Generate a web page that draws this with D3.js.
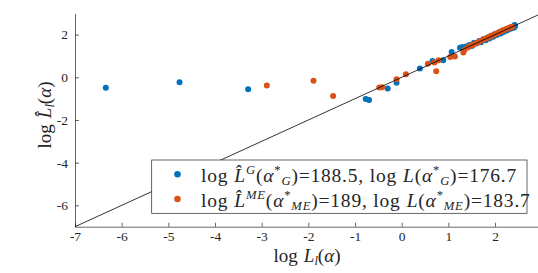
<!DOCTYPE html>
<html lang="en">
<head>
<meta charset="UTF-8">
<script src="https://d3js.org/d3.v7.min.js"></script>
<style>
  body { margin: 0; background: #fff; }
  svg { display: block; }
</style>
</head>
<body>
<svg id="chart" width="538" height="273"></svg>
<script>
// data: [log L_l(alpha), log Lhat_l(alpha)]
var bluePts = [
  [-6.34,-0.49],[-4.76,-0.23],[-3.29,-0.56],[-0.77,-1.02],[-0.70,-1.06],
  [-0.30,-0.52],[-0.11,-0.25],[0.39,0.41],[0.66,0.76],[0.89,0.80],
  [1.07,1.19],[1.25,1.39],[1.30,1.42],[1.38,1.45],[1.45,1.52],[1.50,1.47],
  [1.55,1.62],[1.60,1.58],[1.66,1.70],[1.70,1.64],[1.75,1.78],[1.80,1.74],
  [1.84,1.86],[1.88,1.82],[1.92,1.95],[1.96,1.90],[2.00,2.03],[2.04,1.98],
  [2.08,2.10],[2.12,2.05],[2.15,2.16],[2.18,2.12],[2.21,2.22],[2.24,2.18],
  [2.27,2.27],[2.30,2.24],[2.33,2.33],[2.36,2.30],[2.39,2.38],[2.41,2.34],
  [2.43,2.40],[2.42,2.45]
];
var orangePts = [
  [-2.89,-0.38],[-1.89,-0.16],[-1.47,-0.88],[-0.48,-0.48],[-0.42,-0.47],
  [-0.11,-0.09],[0.09,0.14],[0.56,0.64],[0.74,0.29],[0.79,0.80],[0.70,0.70],
  [1.04,0.95],[1.14,0.98],[1.32,1.16],[1.35,1.30],[1.42,1.40],[1.48,1.50],
  [1.53,1.52],[1.58,1.60],[1.63,1.62],[1.68,1.70],[1.72,1.73],[1.77,1.79],
  [1.82,1.83],[1.86,1.88],[1.90,1.92],[1.94,1.96],[1.98,2.00],[2.02,2.04],
  [2.06,2.08],[2.10,2.12],[2.13,2.15],[2.16,2.19],[2.19,2.21],[2.22,2.24],
  [2.25,2.27],[2.28,2.30],[2.31,2.32],[2.34,2.35],[2.37,2.37]
];
var xTicks = [-7,-6,-5,-4,-3,-2,-1,0,1,2];
var yTicks = [-6,-4,-2,0,2];
var diagLine = [[-7,-7],[3,3]];

var FONT = "'Liberation Serif', 'Times New Roman', serif";
var INK = "#262626";

var svg = d3.select("#chart");
var x = d3.scaleLinear().domain([-7, 3]).range([75, 541.7]);
var y = d3.scaleLinear().domain([-7, 3]).range([226.7, 13.3]);

// axes, MATLAB style: ticks pointing inward
svg.append("g")
  .attr("transform", "translate(0," + y(-7) + ")")
  .call(d3.axisBottom(x).tickValues(xTicks).tickSizeInner(-4).tickSizeOuter(0).tickPadding(3).tickFormat(function(d) { return String(d); }))
  .call(function(g) {
    g.attr("font-family", null);
    g.select(".domain").attr("stroke", INK).attr("stroke-width", 0.7);
    g.selectAll(".tick line").attr("stroke", INK).attr("stroke-width", 0.7);
    g.selectAll(".tick text").style("font-family", FONT).style("font-size", "13.5px").attr("fill", INK).attr("dy", "0.82em");
  });

svg.append("g")
  .attr("transform", "translate(" + x(-7) + ",0)")
  .call(d3.axisLeft(y).tickValues(yTicks).tickSizeInner(-4).tickSizeOuter(0).tickPadding(7).tickFormat(function(d) { return String(d); }))
  .call(function(g) {
    g.attr("font-family", null);
    g.select(".domain").attr("stroke", INK).attr("stroke-width", 0.7);
    g.selectAll(".tick line").attr("stroke", INK).attr("stroke-width", 0.7);
    g.selectAll(".tick text").style("font-family", FONT).style("font-size", "13.5px").attr("fill", INK);
  });

// points
svg.append("g").selectAll("circle").data(bluePts).enter().append("circle")
  .attr("cx", function(d) { return x(d[0]); })
  .attr("cy", function(d) { return y(d[1]); })
  .attr("r", 3)
  .attr("fill", "#0072BD");
svg.append("g").selectAll("circle").data(orangePts).enter().append("circle")
  .attr("cx", function(d) { return x(d[0]); })
  .attr("cy", function(d) { return y(d[1]); })
  .attr("r", 3)
  .attr("fill", "#D95319");

// y = x reference
svg.append("path")
  .datum(diagLine)
  .attr("d", d3.line().x(function(d) { return x(d[0]); }).y(function(d) { return y(d[1]); }))
  .attr("stroke", "#000").attr("stroke-width", 0.8).attr("fill", "none");

// little helper to write math-ish text with tspans
function mathText(t, parts, size) {
  var cur = 0; // current baseline offset
  parts.forEach(function(p) {
    var s = p[1] || "n";
    var ts = t.append("tspan").text(p[0]);
    var target = 0;
    if (s === "i") ts.style("font-style", "italic");
    if (s === "sup" || s === "supi") { target = -size * 0.38; ts.style("font-size", (size * 0.65) + "px"); }
    if (s === "sub" || s === "subi") { target = size * 0.18; ts.style("font-size", (size * 0.65) + "px"); }
    if (s === "supi" || s === "subi") ts.style("font-style", "italic");
    ts.attr("dy", target - cur);
    if (p[2]) ts.attr("dx", p[2]);
    cur = target;
  });
}

// legend
var lg = svg.append("g");
lg.append("rect").attr("x", 151.7).attr("y", 160).attr("width", 375.3).attr("height", 53.3)
  .attr("fill", "#fff").attr("stroke", INK).attr("stroke-width", 0.7);
lg.append("circle").attr("cx", 177.5).attr("cy", 174.3).attr("r", 3.3).attr("fill", "#0072BD");
lg.append("circle").attr("cx", 177.5).attr("cy", 199).attr("r", 3.3).attr("fill", "#D95319");

var fs = 19.5;
var t1 = lg.append("text").attr("x", 201).attr("y", 181.5).style("font-family", FONT).style("font-size", fs + "px")
  .style("letter-spacing", "0.8px").attr("fill", INK);
mathText(t1, [["log"], ["L\u0302", "i", 6], ["G", "supi"], ["("], ["α", "i"], ["*", "sup"], ["G", "subi"], [")=188.5, log"],
  ["L", "i", 6], ["("], ["α", "i"], ["*", "sup"], ["G", "subi"], [")=176.7"]], fs);
var t2 = lg.append("text").attr("x", 201).attr("y", 206.5).style("font-family", FONT).style("font-size", fs + "px")
  .style("letter-spacing", "0.8px").attr("fill", INK);
mathText(t2, [["log"], ["L\u0302", "i", 6], ["ME", "supi"], ["("], ["α", "i"], ["*", "sup"], ["ME", "subi"], [")=189, log"],
  ["L", "i", 6], ["("], ["α", "i"], ["*", "sup"], ["ME", "subi"], [")=183.7"]], fs);

// axis labels
var xl = svg.append("text").attr("x", 307).attr("y", 262).attr("text-anchor", "middle")
  .style("font-family", FONT).style("font-size", "19px").attr("fill", INK);
mathText(xl, [["log"], ["L", "i", 6], ["l", "subi"], ["("], ["α", "i"], [")"]], 19);
var yl = svg.append("text").attr("transform", "translate(51,115) rotate(-90)").attr("text-anchor", "middle")
  .style("font-family", FONT).style("font-size", "19px").attr("fill", INK);
mathText(yl, [["log"], ["L\u0302", "i", 6], ["l", "subi"], ["("], ["α", "i"], [")"]], 19);
</script>
</body>
</html>
